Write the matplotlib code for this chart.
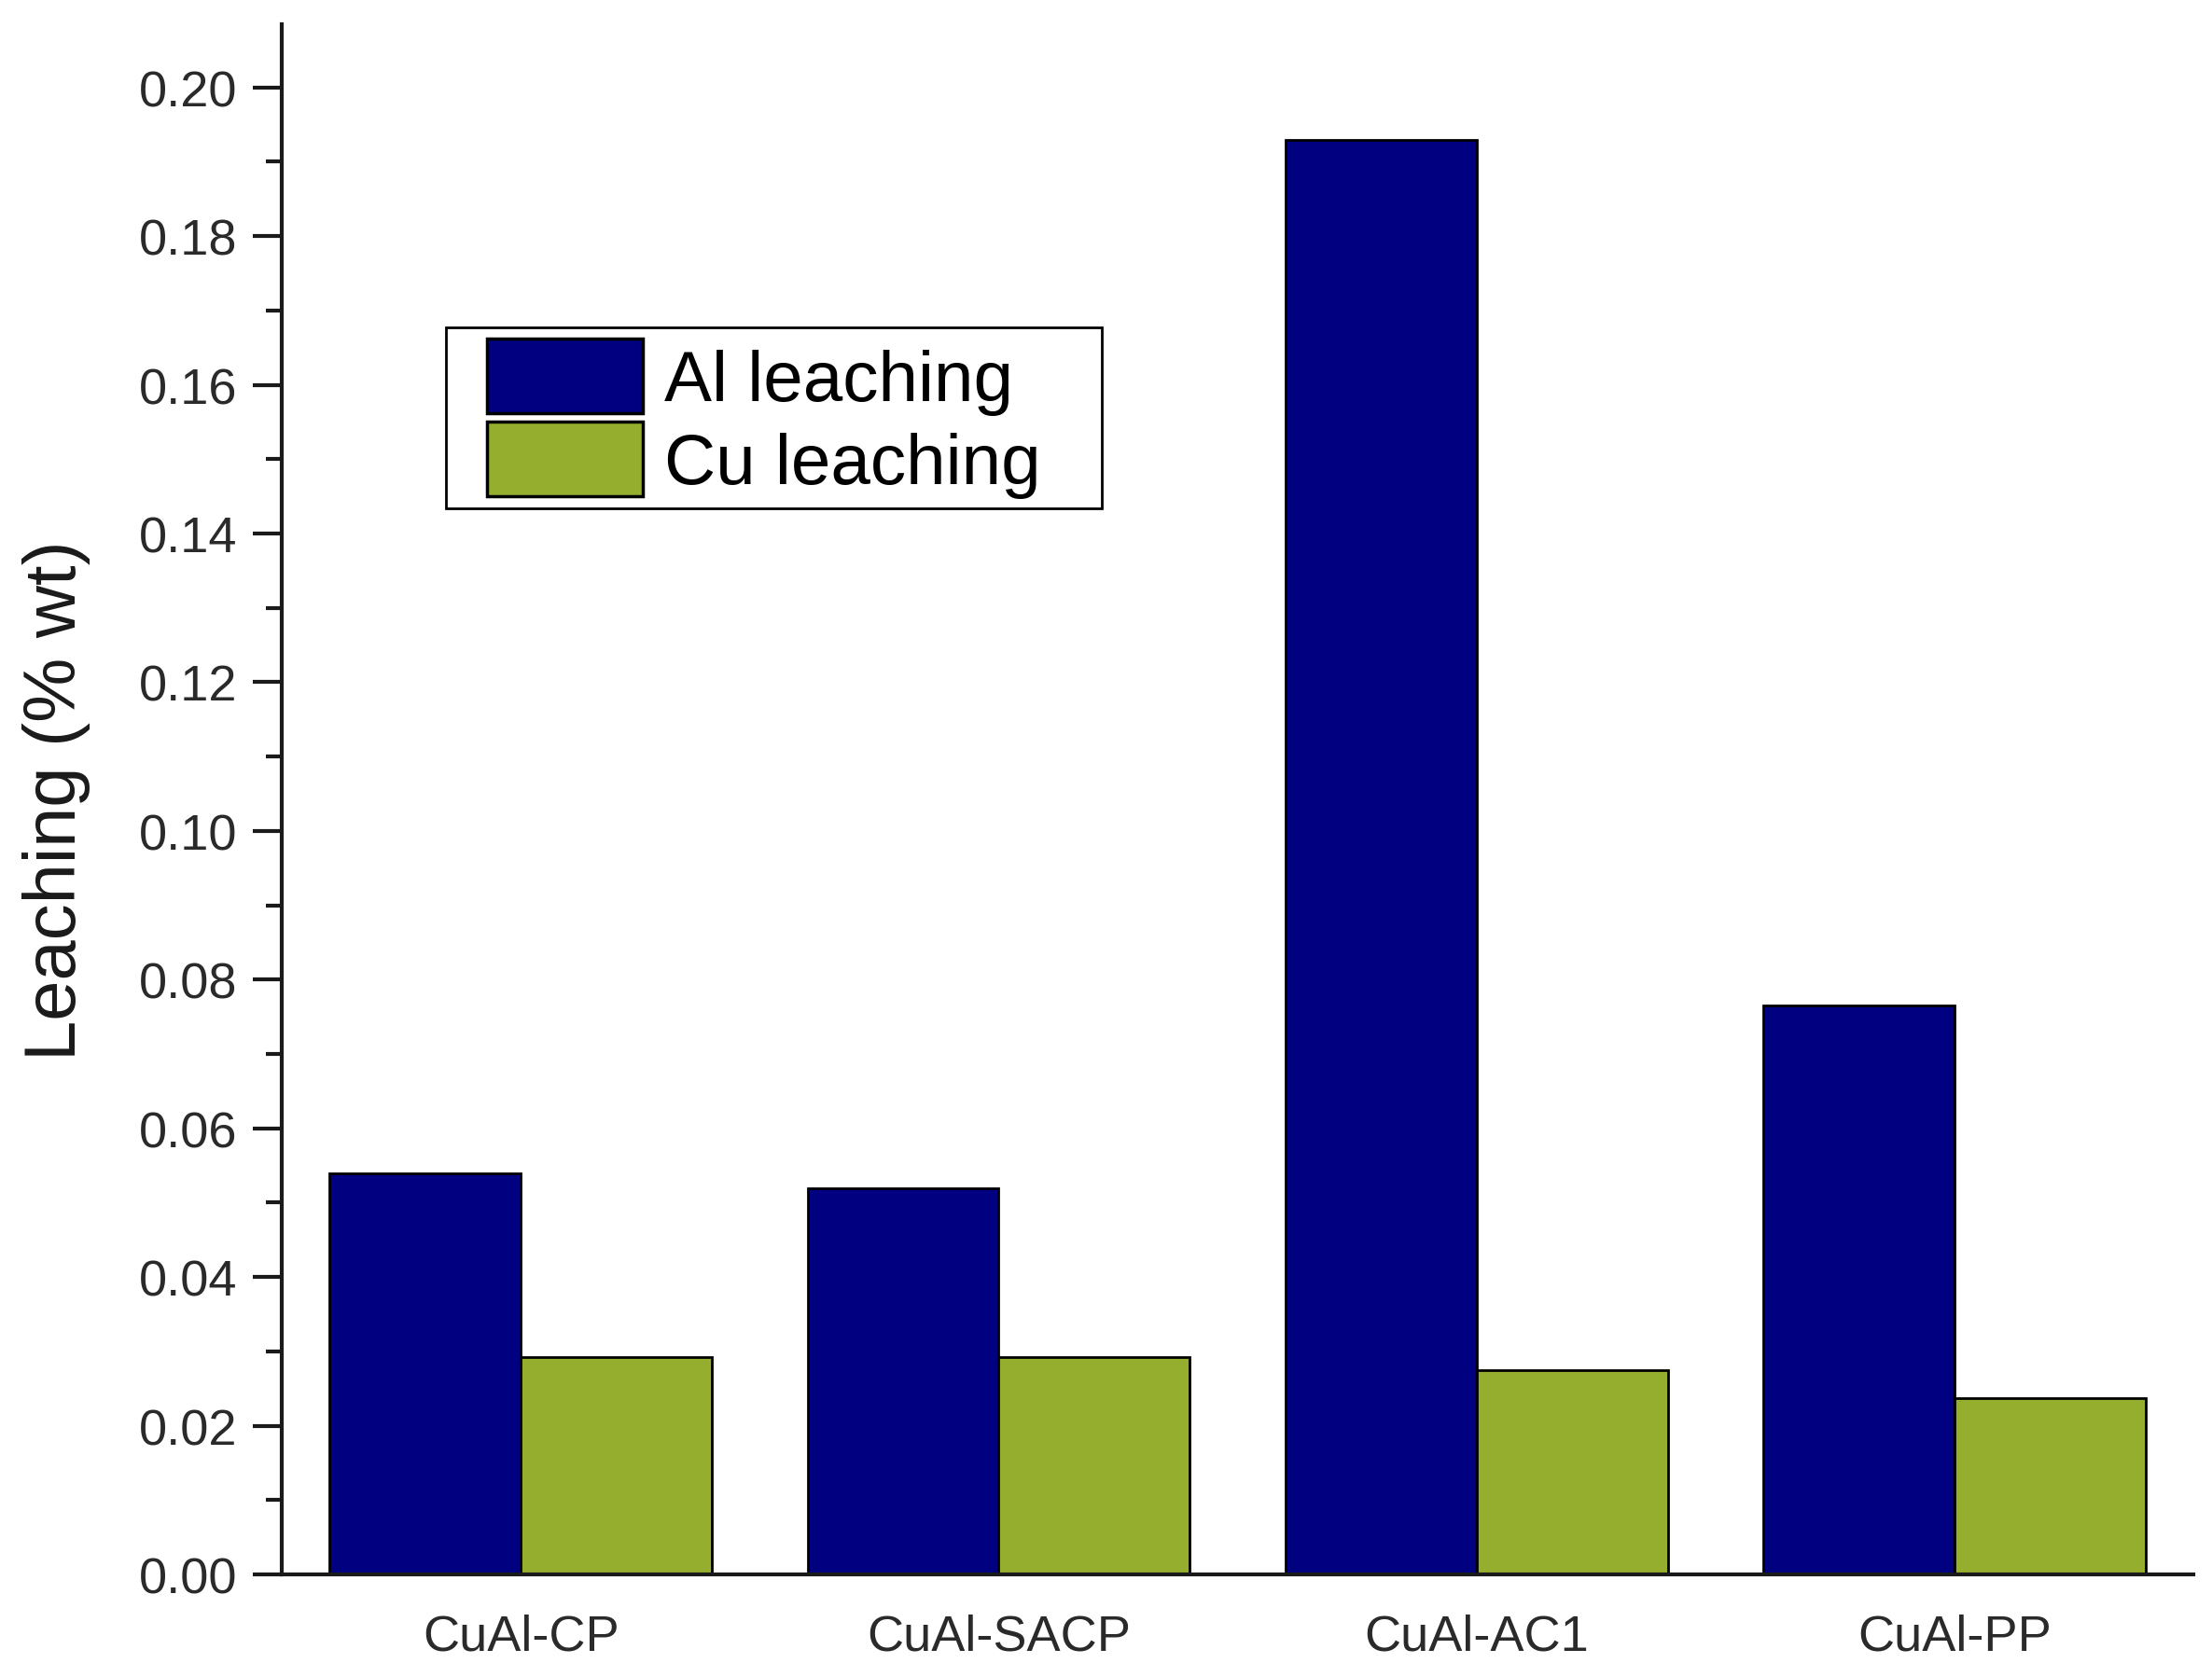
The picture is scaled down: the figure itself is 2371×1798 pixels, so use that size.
import matplotlib
matplotlib.use("Agg")
import matplotlib.pyplot as plt
from matplotlib.patches import Rectangle
import numpy as np

# Data
samples = ["CuAl-CP", "CuAl-SACP", "CuAl-AC1", "CuAl-PP"]
al_leaching = [0.0539, 0.0520, 0.1930, 0.0765]
cu_leaching = [0.0292, 0.0292, 0.0275, 0.0237]

plt.rcParams['font.family'] = ['Liberation Sans', 'DejaVu Sans']

fig = plt.figure(figsize=(23.71, 17.99), dpi=100)
ax = fig.add_axes([0.1274, 0.0611, 0.8642, 0.9239])

x = np.arange(1, len(samples) + 1)
w = 0.4
ax.bar(x - w / 2, al_leaching, w, color='#000080', edgecolor='black',
       linewidth=2.0, label='Al leaching')
ax.bar(x + w / 2, cu_leaching, w, color='#96AE2E', edgecolor='black',
       linewidth=2.0, label='Cu leaching')

ax.set_xlim(0.5, 4.5)
ax.set_ylim(0, 0.2085)

# Axes: only left and bottom lines
for s in ['top', 'right']:
    ax.spines[s].set_visible(False)
for s in ['left', 'bottom']:
    ax.spines[s].set_linewidth(3.0)
    ax.spines[s].set_color('#1a1a1a')

ax.set_yticks(np.arange(0, 0.201, 0.02))
ax.set_yticks(np.arange(0.01, 0.201, 0.02), minor=True)
ax.set_yticklabels([f"{v:.2f}" for v in np.arange(0, 0.201, 0.02)])
ax.tick_params(axis='y', which='major', direction='out', length=22, width=3.0,
               labelsize=39, pad=12, colors='#1a1a1a', labelcolor='#2a2a2a')
ax.tick_params(axis='y', which='minor', direction='out', length=12, width=3.0,
               colors='#1a1a1a')

ax.set_xticks(x)
ax.set_xticklabels(samples)
ax.tick_params(axis='x', length=0, labelsize=39, pad=30, labelcolor='#2a2a2a')

ax.set_ylabel("Leaching (% wt)", fontsize=56, color='#1a1a1a')
ax.yaxis.set_label_coords(-0.100, 0.5)

# legend: entries without frame, box drawn separately
leg = ax.legend(loc='upper left', bbox_to_anchor=(0.1074, 0.797), borderaxespad=0,
                fontsize=55, frameon=False,
                handlelength=2.18, handleheight=1.22, handletextpad=0.3,
                labelspacing=0.1, borderpad=0)
for h in leg.legend_handles:
    h.set_linewidth(2.5)
ax.add_patch(Rectangle((0.0859, 0.6877), 0.429 - 0.0859, 0.8045 - 0.6877,
                       transform=ax.transAxes, fill=False, edgecolor='black',
                       linewidth=2.0, zorder=4, clip_on=False))

fig.savefig("out.png", dpi=100, facecolor='white')
